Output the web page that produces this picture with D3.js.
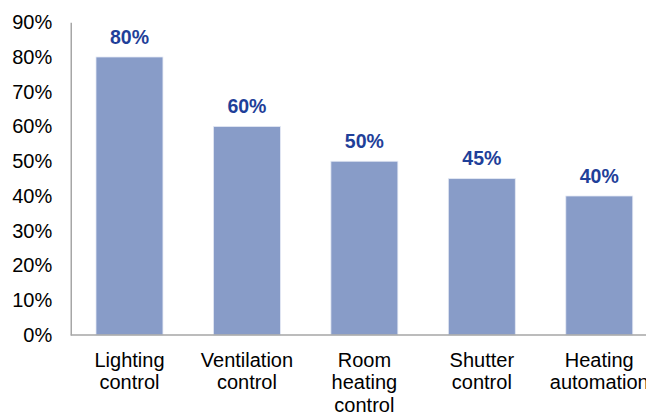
<!DOCTYPE html>
<html><head><meta charset="utf-8">
<script src="https://cdn.jsdelivr.net/npm/d3@7"></script>
<style>body{margin:0;background:#fff;}svg{display:block;font-family:"Liberation Sans",Arial,sans-serif;}</style>
</head><body>
<svg id="c" width="646" height="414"></svg>
<script>
const categories = [["Lighting","control"],["Ventilation","control"],["Room","heating","control"],["Shutter","control"],["Heating","automation"]];
const values = [80, 60, 50, 45, 40];
const yTicks = [0,10,20,30,40,50,60,70,80,90];

const svg = d3.select("#c");
const x0 = 70.75, x1 = 658, yBottom = 335, yTop = 22.25;
const x = d3.scaleBand().domain(d3.range(values.length)).range([x0, x1]).paddingInner(0.43).paddingOuter(0.215);
const y = d3.scaleLinear().domain([0, 90]).range([yBottom, yTop]);

svg.selectAll("rect.bar").data(values).join("rect")
  .attr("class","bar")
  .attr("x",(d,i)=>x(i)).attr("width",x.bandwidth())
  .attr("y",d=>y(d)).attr("height",d=>yBottom-y(d))
  .attr("fill","#889CC8").attr("stroke","#E4E9F4").attr("stroke-width",0.8);

svg.selectAll("text.val").data(values).join("text")
  .attr("class","val")
  .attr("x",(d,i)=>x(i)+x.bandwidth()/2).attr("y",d=>y(d)-13.5)
  .attr("text-anchor","middle").attr("font-weight","bold").attr("font-size","19.5px")
  .attr("fill","#1F3F99").text(d=>d+"%");

// y axis
const yAxis = d3.axisLeft(y).tickValues(yTicks).tickFormat(d=>d+"%").tickSize(0).tickPadding(18.5);
const gy = svg.append("g").attr("transform",`translate(${x0},0)`).call(yAxis);
gy.select(".domain").attr("stroke","#A6A6A6").attr("stroke-width",1.5);
gy.selectAll("text").attr("font-size","20px").attr("fill","#000").attr("font-family","Liberation Sans, Arial, sans-serif");

// x axis
const xAxis = d3.axisBottom(x).tickSize(0).tickFormat("");
const gx = svg.append("g").attr("transform",`translate(0,${yBottom})`).call(xAxis);
gx.select(".domain").attr("stroke","#A6A6A6").attr("stroke-width",1.5).attr("d",`M${x0},0H${x1}`);

svg.selectAll("text.cat").data(categories).join("text")
  .attr("class","cat")
  .attr("text-anchor","middle").attr("font-size","20px").attr("fill","#000")
  .attr("transform",(d,i)=>`translate(${x(i)+x.bandwidth()/2},${yBottom+31.7})`)
  .each(function(d){
    d3.select(this).selectAll("tspan").data(d).join("tspan")
      .attr("x",0).attr("dy",(t,j)=>j===0?0:"22.5px").text(t=>t);
  });
</script>
</body></html>
